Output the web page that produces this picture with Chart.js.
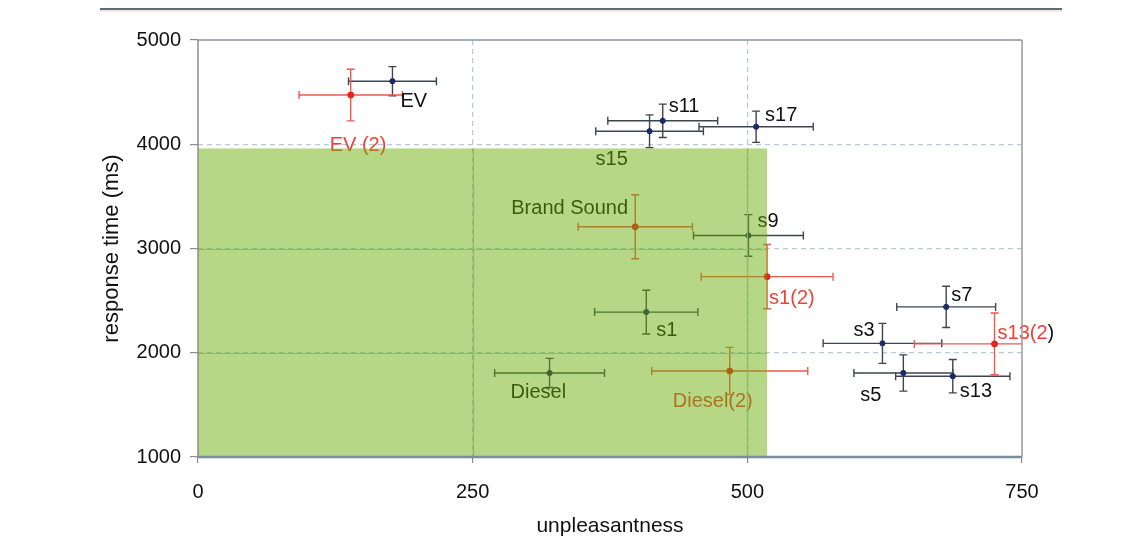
<!DOCTYPE html>
<html><head><meta charset="utf-8">
<script src="https://cdn.jsdelivr.net/npm/chart.js@4.4.0/dist/chart.umd.min.js"></script>
<style>html,body{margin:0;padding:0;background:#fff;overflow:hidden}</style>
</head><body>
<canvas id="c" width="1143" height="540"></canvas>
<script>
// ---- data ----
const labelsA = ['EV','s11','s15','s17','s9','s1','s7','s3','s5','s13','Diesel'];
const unpleasantnessA = [177,423,411,508,501,408,681,623,642,687,320];
const responseA = [4605,4225,4125,4168,3125,2390,2440,2090,1806,1775,1806];
const unpleasantnessErrA = [40,50,49,52,50,47,45,54,45,52,50];
const responseErrA = [140,160,157,150,200,210,198,192,174,160,140];

const labelsB = ['EV (2)','Brand Sound','s1(2)','s13(2)','Diesel(2)'];
const unpleasantnessB = [139,398,518,725,484];
const responseB = [4472,3208,2730,2085,1825];
const unpleasantnessErrB = [47,52,60,73,71];
const responseErrB = [248,307,308,296,227];

const xTicks = [0,250,500,750];
const yTicks = [1000,2000,3000,4000,5000];
const regionX = [0,518];
const regionY = [1000,3960];

// ---- layout / style of label text relative to each point ----
const labelOffsetA = [[8,26],[6,-9],[-54,34],[9,-6],[9,-8],[10,24],[5,-6],[-29,-7],[-43,28],[7,21],[-39,25]];
const labelOffsetB = [[-21,56],[-124,-13],[2,27],[3,-5],[-57,36]];
const BLACK = '#111', RED = '#ee4236';
const labelColorA = labelsA.map(()=>BLACK);
const labelColorB = [RED, BLACK, RED, RED, RED];

function pts(xs, ys, xe, ye, names){
  return xs.map((v,i)=>({x:v, y:ys[i], xe:xe[i], ye:ye[i], name:names[i]}));
}

const FONT = '"Liberation Sans", Arial, Helvetica, sans-serif';

const plugin = {
  id:'deco',
  beforeDatasetsDraw(chart){
    const {ctx, chartArea:a, scales:{x,y}} = chart;
    ctx.save();
    ctx.beginPath(); ctx.rect(a.left, a.top-6, a.right-a.left, a.bottom-a.top+12); ctx.clip();
    chart.data.datasets.forEach(ds=>{
      ctx.strokeStyle = ds.errColor; ctx.lineWidth = 1.4;
      ds.data.forEach(p=>{
        const px=x.getPixelForValue(p.x), py=y.getPixelForValue(p.y);
        const x1=x.getPixelForValue(p.x-p.xe), x2=x.getPixelForValue(p.x+p.xe);
        const y1=y.getPixelForValue(p.y+p.ye), y2=y.getPixelForValue(p.y-p.ye);
        const c=4;
        ctx.beginPath();
        ctx.moveTo(x1,py); ctx.lineTo(x2,py);
        ctx.moveTo(x1,py-c); ctx.lineTo(x1,py+c);
        ctx.moveTo(x2,py-c); ctx.lineTo(x2,py+c);
        ctx.moveTo(px,y1); ctx.lineTo(px,y2);
        ctx.moveTo(px-c,y1); ctx.lineTo(px+c,y1);
        ctx.moveTo(px-c,y2); ctx.lineTo(px+c,y2);
        ctx.stroke();
      });
    });
    ctx.restore();
  },
  afterDatasetsDraw(chart){
    const {ctx, chartArea:a, scales:{x,y}} = chart;
    ctx.save();
    ctx.font = '20px ' + FONT;
    ctx.textBaseline = 'alphabetic';
    ctx.textAlign = 'left';
    chart.data.datasets.forEach(ds=>{
      ds.data.forEach((p,i)=>{
        const px=x.getPixelForValue(p.x), py=y.getPixelForValue(p.y);
        const o = ds.labelOffset[i];
        const tx = px+o[0], ty = py+o[1];
        const col = ds.labelColor[i];
        if (p.name === 's13(2)') {
          const head = 's13(2';
          ctx.fillStyle = col; ctx.fillText(head, tx, ty);
          ctx.fillStyle = BLACK; ctx.fillText(')', tx + ctx.measureText(head).width, ty);
        } else {
          ctx.fillStyle = col; ctx.fillText(p.name, tx, ty);
        }
      });
    });
    // translucent green region drawn over the marks
    const gx1 = x.getPixelForValue(regionX[0]), gx2 = x.getPixelForValue(regionX[1]);
    const gy1 = y.getPixelForValue(regionY[1]), gy2 = y.getPixelForValue(regionY[0]);
    ctx.fillStyle = 'rgba(101,172,3,0.48)';
    ctx.fillRect(gx1, gy1, gx2-gx1, gy2-gy1);
    // grid lines seen through the region look solid
    ctx.beginPath(); ctx.rect(gx1, gy1, gx2-gx1, gy2-gy1); ctx.clip();
    ctx.strokeStyle = 'rgba(140,185,100,0.9)'; ctx.lineWidth = 1.2;
    ctx.beginPath();
    xTicks.slice(1,-1).forEach(v=>{ const p=Math.round(x.getPixelForValue(v))+0.5; ctx.moveTo(p,gy1); ctx.lineTo(p,gy2); });
    yTicks.slice(1,-1).forEach(v=>{ const p=Math.round(y.getPixelForValue(v))+0.5; ctx.moveTo(gx1,p); ctx.lineTo(gx2,p); });
    ctx.stroke();
    ctx.restore();
  },
  afterDraw(chart){
    const {ctx, chartArea:a} = chart;
    ctx.save();
    ctx.strokeStyle = '#8796a4'; ctx.lineWidth = 1.5;
    ctx.beginPath(); ctx.moveTo(a.left, a.top); ctx.lineTo(a.right, a.top); ctx.stroke();
    ctx.strokeStyle = '#9a9a9a'; ctx.lineWidth = 1.5;
    ctx.beginPath(); ctx.moveTo(a.right, a.top); ctx.lineTo(a.right, a.bottom); ctx.stroke();
    ctx.strokeStyle = '#8c8c8c'; ctx.lineWidth = 1.5;
    ctx.beginPath(); ctx.moveTo(a.left, a.top); ctx.lineTo(a.left, a.bottom); ctx.stroke();
    ctx.strokeStyle = '#7b8d9e'; ctx.lineWidth = 2.5;
    ctx.beginPath(); ctx.moveTo(a.left, a.bottom); ctx.lineTo(a.right, a.bottom); ctx.stroke();
    ctx.strokeStyle = '#5b6b78'; ctx.lineWidth = 2;
    ctx.beginPath(); ctx.moveTo(100, 9); ctx.lineTo(1062, 9); ctx.stroke();
    ctx.strokeStyle = 'rgba(240,150,140,0.35)'; ctx.lineWidth = 1.5;
    ctx.beginPath(); ctx.moveTo(100, 11); ctx.lineTo(1062, 11); ctx.stroke();
    ctx.restore();
  }
};

const gridColor = (edgeVals) => (c) => (c.tick && edgeVals.includes(c.tick.value)) ? 'rgba(0,0,0,0)' : '#b9c8d6';

new Chart(document.getElementById('c'), {
  type: 'scatter',
  data: {
    datasets: [
      { label:'set 1', data: pts(unpleasantnessA, responseA, unpleasantnessErrA, responseErrA, labelsA),
        backgroundColor:'#1b2a6b', borderColor:'#1b2a6b', pointRadius:2.6, pointHoverRadius:2.6,
        errColor:'#3d4650', labelColor: labelColorA, labelOffset: labelOffsetA },
      { label:'set 2', data: pts(unpleasantnessB, responseB, unpleasantnessErrB, responseErrB, labelsB),
        backgroundColor:'#e5231b', borderColor:'#e5231b', pointRadius:3, pointHoverRadius:3,
        errColor:'#ee5a4c', labelColor: labelColorB, labelOffset: labelOffsetB }
    ]
  },
  options: {
    responsive:false, animation:false, devicePixelRatio:1,
    layout:{ padding:{ left:0, right:121, top:40, bottom:0 } },
    plugins:{ legend:{display:false}, tooltip:{enabled:false} },
    scales:{
      x:{
        type:'linear', min:0, max:750,
        afterBuildTicks:(s)=>{ s.ticks = xTicks.map(v=>({value:v})); },
        afterFit:(s)=>{ s.height = 83; },
        grid:{ color: gridColor([0,750]), lineWidth:1.2, drawTicks:true, tickLength:6, tickColor:'#8c8c8c', tickWidth:1.2 },
        border:{ display:false, dash:[5,4] },
        ticks:{ font:{family:FONT, size:20}, color:'#111', padding:17, maxRotation:0, callback:(v)=>String(v) },
        title:{ display:true, text:'unpleasantness', font:{family:FONT, size:21}, color:'#111', padding:{top:0,bottom:1} }
      },
      y:{
        type:'linear', min:1000, max:5000,
        afterBuildTicks:(s)=>{ s.ticks = yTicks.map(v=>({value:v})); },
        afterFit:(s)=>{ s.width = 198; },
        grid:{ color: gridColor([1000,5000]), lineWidth:1.2, drawTicks:true, tickLength:8, tickColor:'#8c8c8c', tickWidth:1.2 },
        border:{ display:false, dash:[5,4] },
        ticks:{ font:{family:FONT, size:20}, color:'#111', padding:9, callback:(v)=>String(v) },
        title:{ display:true, text:'response time (ms)', font:{family:FONT, size:22}, color:'#111', padding:{top:99,bottom:0} }
      }
    }
  },
  plugins:[plugin]
});
</script>
</body></html>
